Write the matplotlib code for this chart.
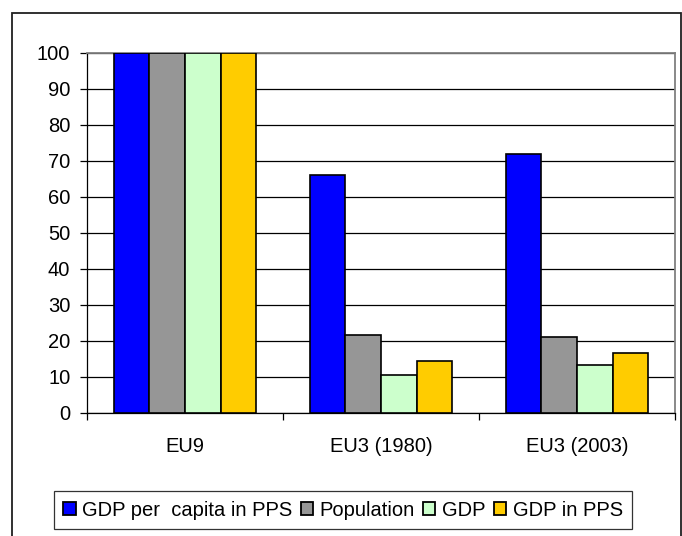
import numpy as np
import matplotlib.pyplot as plt
from matplotlib.patches import Rectangle

plt.rcParams["font.family"] = ["Liberation Sans", "DejaVu Sans"]

# -------------------------------------------------------------------------
# DATA
# -------------------------------------------------------------------------
categories = ["EU9", "EU3 (1980)", "EU3 (2003)"]
series_names = ["GDP per  capita in PPS", "Population", "GDP", "GDP in PPS"]
gdp_per_capita = [100, 66, 72]
population = [100, 21.8, 21.2]
gdp = [100, 10.6, 13.4]
gdp_pps = [100, 14.5, 16.8]
colors = ["#0000FF", "#969696", "#CCFFCC", "#FFCC00"]
yticks = np.arange(0, 101, 10)

W, H = 682, 536
FS = 14.5
fig = plt.figure(figsize=(W / 100, H / 100), dpi=100)

# chart area border
fig.patches.append(
    Rectangle((11.7 / W, -0.01), (681.2 - 11.7) / W, 1 - 12.7 / H + 0.01,
              transform=fig.transFigure, fill=False, edgecolor="#202020", lw=1.3)
)

ax = fig.add_axes([87 / W, 1 - 413 / H, (675 - 87) / W, (413 - 53) / H])

x = np.arange(len(categories))
bar_w = 0.1815
values = [gdp_per_capita, population, gdp, gdp_pps]
for i, (vals, name, c) in enumerate(zip(values, series_names, colors)):
    ax.bar(x + (i - 1.5) * bar_w, vals, bar_w, color=c, edgecolor="black",
           linewidth=1.2, label=name, zorder=3)

ax.set_xlim(-0.5, len(categories) - 0.5)
ax.set_ylim(0, 100)
ax.set_yticks(yticks)
ax.tick_params(axis="y", labelsize=FS, length=5, width=0.9, direction="out", pad=7)
ax.yaxis.grid(True, color="black", linewidth=0.9, zorder=0)

ax.set_xticks(x)
ax.set_xticklabels(categories)
ax.set_xticks(np.arange(-0.5, len(categories), 1), minor=True)
ax.tick_params(axis="x", which="major", length=0, labelsize=FS, pad=17)
ax.tick_params(axis="x", which="minor", length=5, width=0.9, direction="out")

for side in ("top", "right"):
    ax.spines[side].set_color("#808080")
    ax.spines[side].set_linewidth(1.3)
ax.spines["left"].set_linewidth(0.9)
ax.spines["bottom"].set_linewidth(0.9)

leg = fig.legend(loc="center left", bbox_to_anchor=(54 / W, 1 - 510 / H), ncol=4,
                 fontsize=FS, frameon=True, fancybox=False, edgecolor="black",
                 handlelength=0.62, handleheight=0.62, handletextpad=0.33,
                 columnspacing=0.4, borderpad=0.45, borderaxespad=0)
leg.get_frame().set_linewidth(0.9)
for h in leg.legend_handles:
    h.set_linewidth(1.3)

fig.savefig("out.png", dpi=100)
